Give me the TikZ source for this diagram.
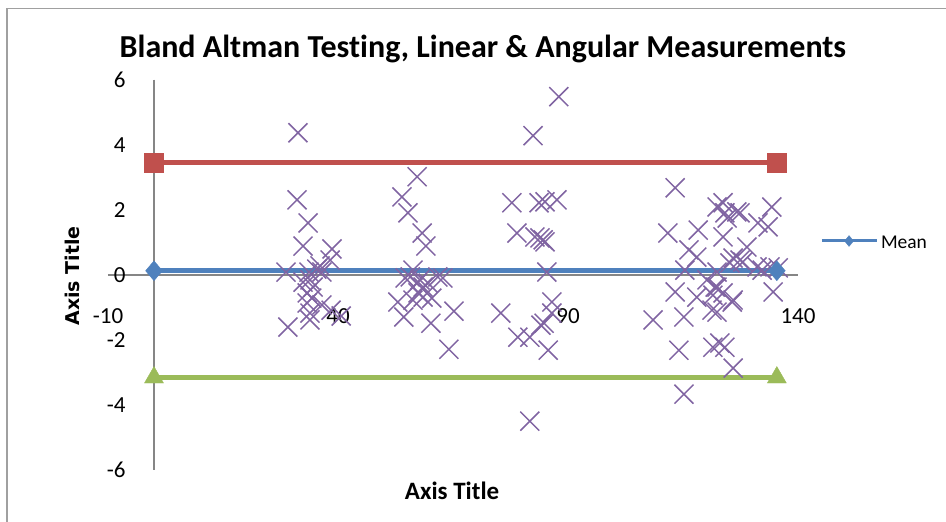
\documentclass[tikz,border=0pt]{standalone}
\usepackage{fontspec}
\setmainfont[Ligatures=NoCommon]{Carlito}
\newfontfamily\ytitlefont{DejaVu Sans}
\usetikzlibrary{shapes.geometric,positioning}

\definecolor{axisgray}{HTML}{868686}
\definecolor{framegray}{HTML}{A0A0A0}
\definecolor{xlred}{HTML}{C0504D}
\definecolor{xlblue}{HTML}{4F81BD}
\definecolor{xlgreen}{HTML}{9BBB59}
\definecolor{xlpurple}{HTML}{8064A2}

\tikzset{
  axisline/.style={axisgray, line width=1.3pt},
  limline/.style={line width=5pt},
  sqmark/.style={rectangle, fill=xlred, draw=xlred, inner sep=0pt, minimum size=19pt},
  dmmark/.style={diamond, fill=xlblue, draw=xlblue, inner sep=0pt, minimum width=17pt, minimum height=20pt},
  trmark/.style={regular polygon, regular polygon sides=3, fill=xlgreen, draw=xlgreen, inner sep=0pt, minimum size=22pt},
  cross/.style={xlpurple, line width=1.5pt},
  ticklab/.style={font=\fontsize{23}{26}\selectfont},
}

\begin{document}
\begin{tikzpicture}[x=4.6pt,y=32.55pt]
  \useasboundingbox (-33.478,-7.558) rectangle (172.174,8.449);
  \draw[framegray, line width=1.2pt] (-31.96,-7.7) -- (-31.96,8.2) -- (173,8.2);

  \node (title) at (71.5,6.94) {\fontsize{32}{38}\selectfont\bfseries Bland Altman Testing, Linear \& Angular Measurements};

  % axes
  \coordinate (ytop) at (0,6);
  \coordinate (ybot) at (0,-6);
  \coordinate (xleft) at (-10,0);
  \coordinate (xright) at (140,0);
  \draw[axisline] (ytop) -- (ybot);
  \draw[axisline] (xleft) -- (xright);

  \foreach \yv/\yl in {6/6,4/4,2/2,0/0,-2/-2,-4/-4,-6/-6}
    \node[ticklab, anchor=east] (ylab\yv) at (-5.4,\yv) {\yl};
  \foreach \xv in {-10,40,90,140}
    \node[ticklab] (xlab\xv) at (\xv,-1.26) {\xv};

  \node (xtitle) at (64.8,-6.64) {\fontsize{25}{30}\selectfont\bfseries Axis Title};
  \node[rotate=90] (ytitle) at (-17.8,-0.03) {\fontsize{19}{22}\selectfont\ytitlefont\bfseries Axis Title};

  % limits of agreement and mean
  \coordinate (upL) at (0,3.46);
  \coordinate (upR) at (135.4,3.46);
  \coordinate (mnL) at (0,0.13);
  \coordinate (mnR) at (135.4,0.13);
  \coordinate (loL) at (0,-3.15);
  \coordinate (loR) at (135.4,-3.15);
  \draw[limline, xlred] (upL) -- (upR);
  \draw[limline, xlblue] (mnL) -- (mnR);
  \draw[limline, xlgreen] (loL) -- (loR);

  \foreach \xv/\yv in {31.3/4.37, 31.1/2.31, 33.5/1.60, 32.4/0.89, 38.7/0.80, 38.3/0.46, 28.7/0.09, 33.7/0.09,
      35.4/0.18, 36.5/0.09, 36.1/0.28, 32.4/-0.22, 33.9/-0.15, 34.6/-0.37, 33.3/-0.55, 34.3/-0.71, 33.3/-0.86,
      36.5/-0.92, 33.9/-1.17, 29.1/-1.60, 33.9/-1.38, 40.7/-1.26, 38.5/-1.08,
      57.2/3.02, 53.9/2.40, 55.2/1.91, 58.3/1.29, 59.1/0.89, 56.3/0.15, 54.6/-0.09, 55.7/-0.06, 57.2/-0.25,
      57.8/-0.15, 58.5/-0.37, 59.6/-0.25, 61.7/-0.06, 62.8/-0.09, 57.4/-0.55, 58.5/-0.68, 60.4/-0.71,
      53.0/-0.83, 56.3/-0.77, 54.3/-1.29, 65.2/-1.11, 60.2/-1.48, 64.1/-2.28,
      88.0/5.48, 82.4/4.28, 77.8/2.22, 83.7/2.22, 87.6/2.31, 85.0/2.25, 78.9/1.29, 82.8/1.17, 84.6/1.08,
      85.0/1.02, 83.9/1.14, 85.4/0.09, 86.5/-0.83, 75.4/-1.17, 84.8/-1.48, 79.1/-1.91, 81.7/-1.91,
      85.7/-2.31, 86.5/-1.17, 81.7/-4.49, 84.1/-1.54,
      113.3/2.68, 111.7/1.29, 118.3/1.38, 116.3/0.77, 118.0/0.55, 115.4/0.15, 113.3/-0.52, 118.0/-0.68,
      108.5/-1.38, 115.2/-1.29, 114.1/-2.31, 115.2/-3.66, 122.0/-0.37, 121.3/-1.08, 121.5/-2.22,
      122.4/2.09, 123.7/2.22, 126.7/1.94, 124.1/1.91, 134.3/2.09, 131.3/1.60, 133.5/1.48, 123.7/1.17,
      128.9/0.86, 125.9/0.52, 127.4/0.46, 125.2/0.37, 131.1/0.25, 133.9/0.25, 135.7/0.22, 122.4/0.09,
      120.2/-0.15, 122.4/-0.37, 121.5/-0.62, 123.7/-0.55, 125.9/-0.77, 122.4/-1.14, 134.6/-0.52,
      123.0/-2.09, 124.1/-2.22, 125.9/-2.86, 127.4/1.91, 124.6/1.75, 128.0/0.40, 132.2/0.15, 125.7/-0.83}
    \draw[cross] (\xv,\yv) +(-9.5pt,-9.5pt) -- +(9.5pt,9.5pt) +(-9.5pt,9.5pt) -- +(9.5pt,-9.5pt);

  \node[sqmark] (upLm) at (upL) {};
  \node[sqmark] (upRm) at (upR) {};
  \node[dmmark] (mnLm) at (mnL) {};
  \node[dmmark] (mnRm) at (mnR) {};
  \node[trmark] (loLm) at (loL) {};
  \node[trmark] (loRm) at (loR) {};

  % legend
  \coordinate (legL) at (145.2,1.045);
  \coordinate (legR) at (157.2,1.045);
  \draw[xlblue, line width=3pt] (legL) -- (legR);
  \node[dmmark, minimum width=9pt, minimum height=11pt] (legm) at (151.1,1.045) {};
  \node[anchor=west, inner sep=0pt, font=\fontsize{19.5}{22}\selectfont] (legtext) at (158.0,1.0) {Mean};
\end{tikzpicture}
\end{document}
